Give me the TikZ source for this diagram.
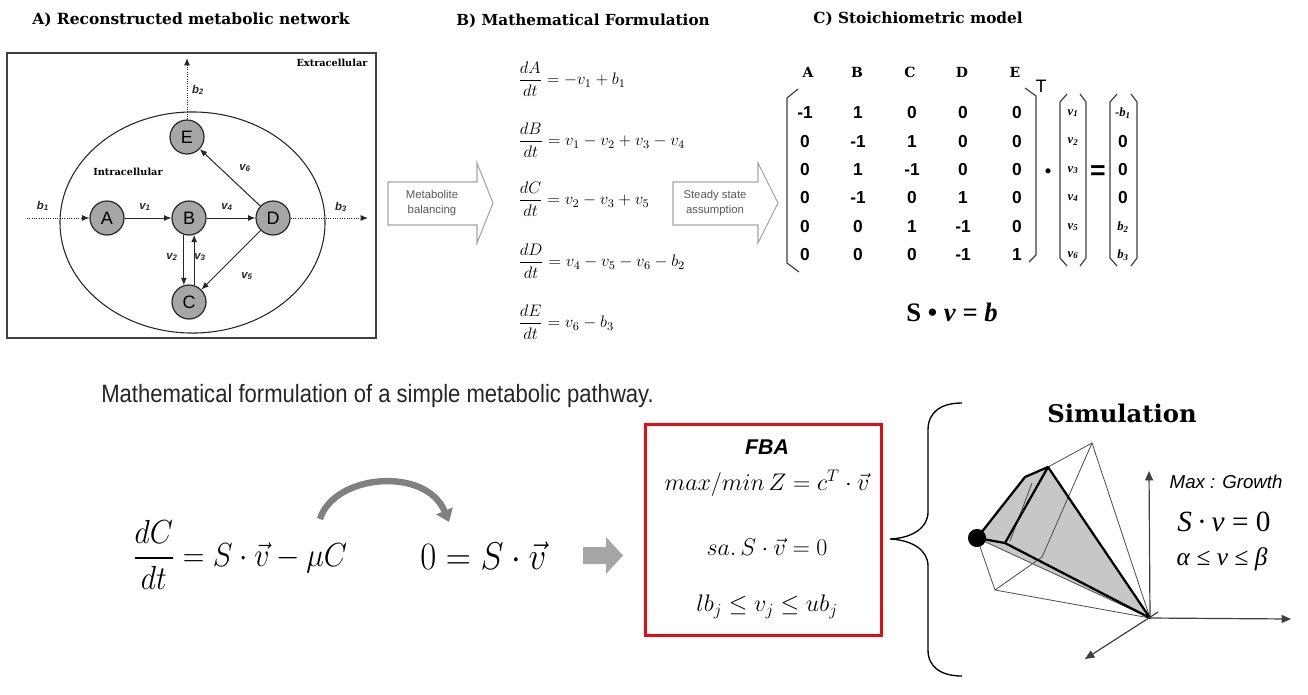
\RequirePackage{fix-cm}
\documentclass[tikz,border=0pt]{standalone}
\usepackage{amsmath}
\usepackage{graphicx}
\usepackage{fontspec}
\usetikzlibrary{arrows.meta}
\newfontfamily\djs{DejaVu Serif}
\newfontfamily\arial{Liberation Sans}
\newfontfamily\tnr{Liberation Serif}
\newcommand\fsz[1]{\fontsize{#1}{#1}\selectfont}
\definecolor{boxred}{RGB}{226,12,18}
\begin{document}
\begin{tikzpicture}[x=0.75pt,y=-0.75pt,
  met/.style={circle,draw=black!85,line width=0.9pt,fill=black!35,minimum size=25.5pt,inner sep=0pt,font=\arial\fsz{13.5}},
  arr/.style={-{Latex[length=5.5pt,width=4.5pt]},line width=0.75pt,draw=black!85},
  dotarr/.style={arr,densely dotted},
  flux/.style={font=\arial\bfseries\itshape\fsz{8.5},text=black!85},
  region/.style={font=\djs\bfseries\fsz{7.3}},
  eqB/.style={anchor=west,inner sep=0pt,font=\fsz{12.5}},
  barrow/.style={draw=black!35,fill=white,line width=0.8pt},
  bartext/.style={font=\arial\fontsize{8.5}{11}\selectfont,text=black!65,align=center},
  hdr/.style={font=\djs\bfseries\fsz{10.5}},
  ent/.style={font=\arial\bfseries\fsz{13}},
  vent/.style={font=\tnr\bfseries\itshape\fsz{9.5}},
  brk/.style={line width=0.9pt,draw=black!75},
  thinl/.style={line width=0.6pt,draw=black!70},
  thickl/.style={line width=1.7pt,draw=black,line join=round},
  axis/.style={line width=0.9pt,draw=black!75,-{Triangle[length=7pt,width=6pt]}},
  fbaeq/.style={font=\fsz{18}}
]
\useasboundingbox (0,0) rectangle (1308,694);
\fill[white] (0,0) rectangle (1308,694);

% ---------- titles
\node (tA) at (191,20) {\resizebox{238pt}{!}{\djs\bfseries A) Reconstructed metabolic network}};
\node (tB) at (583,21) {\resizebox{190pt}{!}{\djs\bfseries B) Mathematical Formulation}};
\node (tC) at (918,19) {\resizebox{157pt}{!}{\djs\bfseries C) Stoichiometric model}};

% ---------- panel A
\draw[line width=0.9pt,draw=black!75] (7,53) rectangle (376,338);
\draw[line width=0.8pt,draw=black!85] (192.5,222.5) ellipse [x radius=99.4pt, y radius=82.9pt];
\node[region] (ext) at (332,63) {Extracellular};
\node[region] (int) at (128,172) {Intracellular};

\node[met] (A) at (107,218) {A};
\node[met] (B) at (189,218) {B};
\node[met] (D) at (273,218) {D};
\node[met] (E) at (187,137) {E};
\node[met] (C) at (189,302) {C};

\coordinate (b1s) at (27,218);
\coordinate (b2e) at (187,58);
\coordinate (b3e) at (368,218);
\draw[dotarr] (b1s) -- (A);
\draw[dotarr] (E) -- (b2e);
\draw[dotarr] (D) -- (b3e);
\draw[arr] (A) -- (B);
\draw[arr] (B) -- (D);
\draw[arr] (D) -- (E);
\draw[arr] (D) -- (C);
\draw[arr] (B.253) -- (C.107);
\draw[arr] (C.73) -- (B.287);

\node[flux] (lb1) at (43,206) {b\textsubscript{1}};
\node[flux] (lb2) at (198,90) {b\textsubscript{2}};
\node[flux] (lb3) at (341,207) {b\textsubscript{3}};
\node[flux] (lv1) at (145,207) {v\textsubscript{1}};
\node[flux] (lv4) at (227,207) {v\textsubscript{4}};
\node[flux] (lv6) at (245,168) {v\textsubscript{6}};
\node[flux] (lv2) at (172,257) {v\textsubscript{2}};
\node[flux] (lv3) at (200,257) {v\textsubscript{3}};
\node[flux] (lv5) at (247,276) {v\textsubscript{5}};

% ---------- panel B
\draw[barrow] (388,182) -- (477,182) -- (477,163) -- (493,203) -- (477,243) -- (477,225) -- (388,225) -- cycle;
\node[bartext] (mb) at (432,203) {Metabolite\\balancing};
\draw[barrow] (673,182) -- (758,182) -- (758,163) -- (778,203) -- (758,243) -- (758,225) -- (673,225) -- cycle;
\node[bartext] (ss) at (715,203) {Steady state\\assumption};

\node[eqB] (eA) at (518,79) {$\displaystyle\frac{dA}{dt}=-v_1+b_1$};
\node[eqB] (eB) at (518,140) {$\displaystyle\frac{dB}{dt}=v_1-v_2+v_3-v_4$};
\node[eqB] (eC) at (518,199) {$\displaystyle\frac{dC}{dt}=v_2-v_3+v_5$};
\node[eqB] (eD) at (518,261) {$\displaystyle\frac{dD}{dt}=v_4-v_5-v_6-b_2$};
\node[eqB] (eE) at (518,322) {$\displaystyle\frac{dE}{dt}=v_6-b_3$};

% ---------- panel C
\foreach \h/\x in {A/808,B/857,C/910,D/962,E/1015}
  \node[hdr] (h\h) at (\x,72) {\h};
\foreach \r/\y/\a/\b/\c/\d/\e in {1/113/-1/1/0/0/0, 2/141.5/0/-1/1/0/0, 3/170/0/1/-1/0/0, 4/198/0/-1/0/1/0, 5/227/0/0/1/-1/0, 6/255/0/0/0/-1/1}{
  \node[ent] (m\r a) at (805,\y) {\a};
  \node[ent] (m\r b) at (858,\y) {\b};
  \node[ent] (m\r c) at (912,\y) {\c};
  \node[ent] (m\r d) at (963,\y) {\d};
  \node[ent] (m\r e) at (1017,\y) {\e};
  \node[vent] (v\r) at (1073,\y) {v\textsubscript{\r}};
}
\draw[brk] (798,89) -- (787,98) -- (787,263) -- (799,272);
\draw[brk] (1025,88) -- (1036,96) -- (1036,255) -- (1029,262);
\node[font=\arial\fsz{13.5}] (Tsup) at (1041,86) {T};
\node[font=\arial\fsz{14}] (dot1) at (1048,173) {•};
\draw[brk] (1067,94) -- (1060,102) -- (1060,258) -- (1067,266);
\draw[brk] (1080,94) -- (1086,102) -- (1086,258) -- (1080,266);
\node[font=\arial\bfseries\fsz{20}] (eqs) at (1098,173) {=};
\draw[brk] (1117,94) -- (1110,102) -- (1110,258) -- (1117,266);
\draw[brk] (1131,94) -- (1137,102) -- (1137,258) -- (1131,266);
\node[vent] (rb1) at (1123,113) {-b\textsubscript{1}};
\node[ent] (rb2) at (1123,141.5) {0};
\node[ent] (rb3) at (1123,170) {0};
\node[ent] (rb4) at (1123,198) {0};
\node[vent] (rb5) at (1123,227) {b\textsubscript{2}};
\node[vent] (rb6) at (1123,255) {b\textsubscript{3}};
\node[font=\tnr\bfseries\fsz{20}] (svb) at (952,312) {S • \textit{v} = \textit{b}};

% ---------- caption
\node[anchor=base west,inner sep=0pt,text=black!85] (cap) at (101,402) {\scalebox{0.88}[1]{\arial\fsz{18.8}Mathematical formulation of a simple metabolic pathway.}};

% ---------- bottom equations
\node[anchor=west,inner sep=0pt] (eq1) at (133,555) {\scalebox{0.9}[1]{\fsz{25}$\displaystyle\frac{dC}{dt}=S\cdot\vec{v}-\mu C$}};
\node[anchor=base west,inner sep=0pt] (eq2) at (420,569) {\scalebox{0.9}[1]{\fsz{29}$0=S\cdot\vec{v}$}};
\coordinate (ca1) at (320,519);
\coordinate (ca2) at (449,522);
\draw[black!50,line width=4.8pt,-{Triangle[length=9pt,width=13pt]}] (ca1) .. controls (334,474) and (426,466) .. (ca2);
\fill[black!35] (583,547) -- (606,547) -- (606,537) -- (623,555.5) -- (606,574) -- (606,564) -- (583,564) -- cycle;

% ---------- FBA box
\node[draw=boxred,line width=2.2pt,minimum width=177pt,minimum height=158pt] (fba) at (763.5,530) {};
\node[font=\arial\bfseries\itshape\fsz{16}] (fbat) at (767,447) {FBA};
\node[fbaeq] (f1) at (767,483) {$max/min\,Z=c^T\cdot\vec{v}$};
\node[fbaeq] (f2) at (767,547) {$sa.\,S\cdot\vec{v}=0$};
\node[fbaeq] (f3) at (767,607) {$lb_j\leq v_j\leq ub_j$};

% ---------- brace
\draw[line width=1pt,black] (962,403) .. controls (941,403) and (928,412) .. (928,430) -- (928,512) .. controls (928,528) and (912,538) .. (890,539) .. controls (912,540) and (928,550) .. (928,566) -- (928,650) .. controls (928,667) and (941,676) .. (962,676);

% ---------- simulation
\node (sim) at (1122,413) {\resizebox{112pt}{!}{\djs\bfseries Simulation}};
\coordinate (O) at (1150,618);
\coordinate (T) at (1092,443);
\coordinate (P1) at (1048,467);
\coordinate (P2) at (1025,477);
\coordinate (Dt) at (977,538);
\coordinate (P3) at (1005,543);
\coordinate (L) at (995,590);
\coordinate (M) at (1042,557);
\fill[black!22] (Dt) -- (P2) -- (P1) -- (O) -- cycle;
\draw[thinl] (P1) -- (T) -- (O);
\draw[thinl] (T) -- (M) -- (L);
\draw[thinl] (Dt) -- (L) -- (O);
\draw[thinl] (Dt) -- (O);
\draw[thinl] (1032,483) -- (1010,541);
\draw[thickl] (Dt) -- (P2) -- (P1) -- (O) -- (P3) -- cycle;
\draw[thickl] (P1) -- (P3);
\fill[black] (Dt) circle [radius=6.8pt];
\coordinate (ay) at (1149,471);
\coordinate (ax) at (1291,619);
\coordinate (az) at (1085,659);
\coordinate (azs) at (1158,612);
\draw[axis] (O) -- (ay);
\draw[axis] (O) -- (ax);
\draw[axis] (azs) -- (az);
\node[font=\arial\itshape\fsz{14},anchor=west] (maxg) at (1165,482) {Max : Growth};
\node[font=\tnr\fsz{22}] (sv) at (1224,522) {\textit{S}\,·\,\textit{v} = 0};
\node[font=\tnr\fsz{19}] (ab) at (1222,559) {\textit{α} ≤ \textit{v} ≤ \textit{β}};
\end{tikzpicture}
\end{document}
